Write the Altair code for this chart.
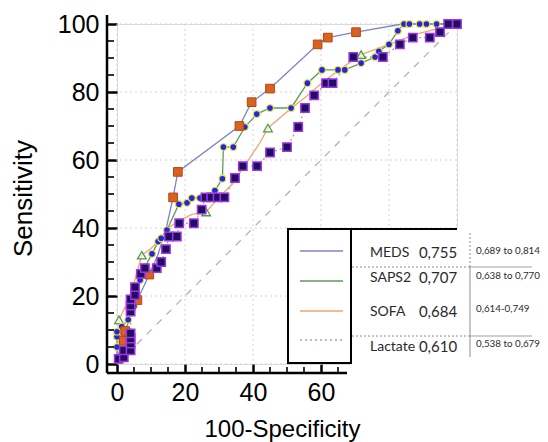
import altair as alt
import pandas as pd

# ---------------- data ----------------
meds_x = [0, 0.5, 2, 2.4, 4, 6, 9.5, 12, 14.5, 16.5, 17.9, 36, 39.6, 45, 59, 62, 70.3, 84, 100]
meds_y = [0, 3, 6.8, 9.7, 14, 18.8, 26.3, 32, 40, 49, 56.5, 70, 77, 81, 94, 96, 97.6, 100, 100]
meds_mx = [2, 2.4, 6, 9.5, 16.5, 17.9, 36, 39.6, 45, 59, 62, 70.3]
meds_my = [6.8, 9.7, 18.8, 26.3, 49, 56.5, 70, 77, 81, 94, 96, 97.6]

saps_x = [0, 0, 0, 0, 1.4, 3.3, 5, 6.8, 8.2, 10.3, 12.1, 13, 14.7, 18.2, 20.6, 22, 24.4, 28.8, 31, 31.3,
          34.2, 37.6, 41.1, 45, 51.2, 56, 60.3, 65, 67, 71.8, 75.9, 77, 80, 82.6, 84.4, 86, 89, 91, 94, 100]
saps_y = [0, 5, 8, 9.5, 11, 13, 17, 24.7, 28.5, 32.4, 36, 37, 39.4, 47, 47.4, 48.8, 48.8, 51, 54.5, 63.8,
          63.8, 69.7, 73.5, 75.3, 75.3, 82.6, 86.5, 86.5, 86.5, 88.5, 90.3, 92, 94, 98, 100, 100, 100, 100, 100, 100]

sofa_x = [0, 0.3, 0.6, 2.5, 4.5, 7.3, 10, 13, 15, 18, 22, 26.2, 30, 34, 42, 44.4, 51, 56, 60.3, 66,
          71.8, 80, 88, 100]
sofa_y = [0, 6, 13, 17, 22, 32, 34, 37, 40, 42, 44, 44.7, 49, 53, 65, 69.4, 75, 79, 82.7, 87,
          91, 94, 97, 100]
sofa_mx = [0.6, 7.3, 26.2, 44.4, 71.8]
sofa_my = [13, 32, 44.7, 69.4, 91]

lac_x = [0, 0.5, 2, 2, 4, 4, 4, 4, 4, 4, 4, 5.3, 5.3, 7, 8.2, 11.7, 13, 14.4, 15.3, 17.6, 18.3, 22.6,
         24.9, 26, 27.7, 29.6, 31.6, 34.7, 37, 41.2, 45, 50, 53.3, 55.3, 58, 61.5, 63.4,
         69.5, 78.2, 83.2, 87, 92, 95, 97.4, 100]
lac_y = [0, 1.5, 2, 4, 4, 6, 7.5, 9, 15.4, 17.2, 19, 20.3, 22.6, 26.5, 28.2, 28.2, 30, 33.8, 37.5, 37.5, 41.4, 41.4,
         45.4, 49, 49, 49, 49, 54.7, 58.2, 58.2, 62.2, 63.8, 69.7, 75.3, 79, 82.6, 82.6,
         90.3, 90.3, 94, 96, 96, 97.6, 100, 100]

diag = [0, 100]
grid_vals = [0, 20, 40, 60, 80, 100]
y_ticks = [0, 20, 40, 60, 80, 100]
x_ticks = [0, 20, 40, 60]
y_minor = [5, 10, 15, 25, 30, 35, 45, 50, 55, 65, 70, 75, 85, 90, 95]
x_minor = [5, 10, 15, 25, 30, 35, 45, 50, 55, 65]

names = ["MEDS", "SAPS2", "SOFA", "Lactate"]
aucs = ["0,755", "0,707", "0,684", "0,610"]
cis = ["0,689 to 0,814", "0,638 to 0,770", "0,614-0,749", "0,538 to 0,679"]

# ---------------- layout / style ----------------
W = H = 340
C_MEDS = "#8282c8"
C_SAPS = "#5c9e52"
C_SOFA = "#f0a46c"
C_LAC = "#98b098"

xs = alt.Scale(domain=[0, 100], nice=False, zero=False)
ys = alt.Scale(domain=[0, 100], nice=False, zero=False)

X_AXIS = alt.Axis(values=x_ticks, grid=False, domain=False, ticks=True, tickSize=9, tickWidth=2.5,
                  tickColor="black", labelFont="Liberation Sans", labelFontSize=25, labelColor="black",
                  labelPadding=7, labelFlush=False, labelOverlap=False,
                  title="100-Specificity", titleFont="Liberation Sans", titleFontSize=24,
                  titleFontWeight="normal", titleColor="black", titleX=165, titleY=72,
                  titleAlign="center", titleBaseline="alphabetic")
Y_AXIS = alt.Axis(values=y_ticks, grid=False, domain=False, ticks=True, tickSize=10, tickWidth=2.5,
                  tickColor="black", labelFont="Liberation Sans", labelFontSize=25, labelColor="black",
                  labelPadding=8, labelFlush=False, labelOverlap=False,
                  title="Sensitivity", titleFont="Liberation Sans", titleFontSize=26,
                  titleFontWeight="normal", titleColor="black", titleX=-94, titleY=174,
                  titleAngle=270, titleAlign="center", titleBaseline="middle")


def X(f):
    return alt.X(f, type="quantitative", scale=xs, axis=X_AXIS)


def Y(f):
    return alt.Y(f, type="quantitative", scale=ys, axis=Y_AXIS)


def series_df(xv, yv):
    return pd.DataFrame({"x": xv, "y": yv, "i": list(range(len(xv)))})


def line_layer(xv, yv, color, width=1.3, dash=None):
    kw = dict(color=color, strokeWidth=width)
    if dash:
        kw["strokeDash"] = dash
    return alt.Chart(series_df(xv, yv)).mark_line(**kw).encode(x=X("x"), y=Y("y"), order="i:Q")


def point_layer(xv, yv, **kw):
    return alt.Chart(series_df(xv, yv)).mark_point(opacity=1, **kw).encode(x=X("x"), y=Y("y"))


dummy = pd.DataFrame({"d": [0]})


def rect(x1, x2, y1, y2, **kw):
    return alt.Chart(dummy).mark_rect(**kw).encode(
        x=alt.value(x1), x2=alt.value(x2), y=alt.value(y1), y2=alt.value(y2))


def rule(x1, y1, x2, y2, **kw):
    return alt.Chart(dummy).mark_rule(**kw).encode(
        x=alt.value(x1), x2=alt.value(x2), y=alt.value(y1), y2=alt.value(y2))


def text(t, x, y, **kw):
    return alt.Chart(pd.DataFrame({"t": [t]})).mark_text(**kw).encode(
        text="t:N", x=alt.value(x), y=alt.value(y))


gdf = pd.DataFrame({"v": grid_vals})
vgrid = alt.Chart(gdf).mark_rule(color="#d2d2d2", strokeDash=[2, 3], strokeWidth=1).encode(x=X("v"))
hgrid = alt.Chart(gdf).mark_rule(color="#d2d2d2", strokeDash=[2, 3], strokeWidth=1).encode(y=Y("v"))

diag_layer = line_layer(diag, diag, "#bca4b6", width=1.2, dash=[7, 7])

layers = [vgrid, hgrid, diag_layer,
          line_layer(lac_x, lac_y, C_LAC, width=1.4, dash=[2, 3]),
          line_layer(sofa_x, sofa_y, C_SOFA),
          line_layer(saps_x, saps_y, C_SAPS),
          line_layer(meds_x, meds_y, C_MEDS),
          point_layer(sofa_mx, sofa_my, shape="triangle-up", filled=True, size=75,
                      fill="#ffffff", fillOpacity=0.6, stroke="#4e9a48", strokeWidth=1.3),
          point_layer(saps_x[1:-1], saps_y[1:-1], shape="circle", filled=True, size=45,
                      fill="#2424e8", stroke="#e8e63a", strokeWidth=1.1),
          point_layer(meds_mx, meds_my, shape="square", filled=True, size=75,
                      fill="#d8621e", stroke="#b04a14", strokeWidth=1),
          point_layer(lac_x[1:], lac_y[1:], shape="square", filled=True, size=70,
                      fill="#1e1060", stroke="#a232e6", strokeWidth=1.5),
          ]

# legend / AUC table overlay (covers lower-right part of the plot)
layers += [
    rect(234, 450, 205, 346, color="white"),
    rect(171, 234, 205, 339, fill="white", stroke="black", strokeWidth=2),
    rule(171, 205, 340, 205, color="black", strokeWidth=2),
    rule(183, 227, 226, 227, color=C_MEDS, strokeWidth=1.5),
    rule(183, 257, 226, 257, color=C_SAPS, strokeWidth=1.5),
    rule(183, 287, 226, 287, color=C_SOFA, strokeWidth=1.5),
    rule(183, 316, 226, 316, color=C_LAC, strokeWidth=1.5, strokeDash=[2, 3]),
    rule(235, 243, 353, 243, color="#8a8a8a", strokeWidth=1, strokeDash=[2, 2]),
    rule(353, 243, 415, 243, color="#a0a0a0", strokeWidth=1),
    rule(235, 312, 353, 312, color="#8a8a8a", strokeWidth=1, strokeDash=[2, 2]),
    rule(353, 312, 415, 312, color="#a0a0a0", strokeWidth=1),
    rule(353, 209, 353, 241, color="#8a8a8a", strokeWidth=1, strokeDash=[2, 2]),
    rule(353, 241, 353, 333, color="#a0a0a0", strokeWidth=1.2),
]
NAME_X, AUC_X, CI_X = 253, 321, 359
ROW_Y = [229, 254, 288, 323]
CI_Y = [227, 252, 285, 320]
for i in range(4):
    layers.append(text(names[i], NAME_X, ROW_Y[i], font="Lato", fontSize=14, color="#2a2a2a",
                       align="left", baseline="middle"))
    layers.append(text(aucs[i], AUC_X, ROW_Y[i], font="Lato", fontSize=15, color="#2a2a2a",
                       align="center", baseline="middle"))
    layers.append(text(cis[i], CI_X, CI_Y[i], font="Lato", fontSize=9.8, color="#2a2a2a",
                       align="left", baseline="middle"))

# axis lines and minor ticks
layers += [
    rule(-10, -9, -10, 349, color="black", strokeWidth=2.5),
    rule(-10, 349, 230, 349, color="black", strokeWidth=2.5),
    alt.Chart(pd.DataFrame({"v": y_minor})).mark_rule(color="black", strokeWidth=1.6).encode(
        y=Y("v"), x=alt.value(-10), x2=alt.value(-3)),
    alt.Chart(pd.DataFrame({"v": x_minor})).mark_rule(color="black", strokeWidth=1.6).encode(
        x=X("v"), y=alt.value(343), y2=alt.value(349)),
]

chart = alt.layer(*layers).properties(
    width=W, height=H,
    autosize=alt.AutoSizeParams(type="none"),
    padding={"left": 109, "top": 16, "right": 83, "bottom": 78},
).configure_view(stroke=None).configure(background="white")

chart.save("out.html", embed_options={"renderer": "svg", "actions": False})
